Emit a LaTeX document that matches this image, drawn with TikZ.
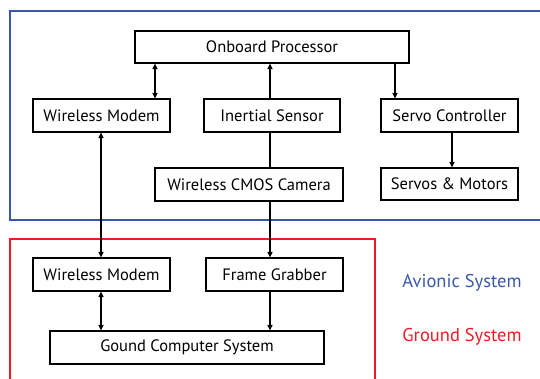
\documentclass[tikz,border=0pt]{standalone}
\usepackage{fontspec}
\setmainfont{PT Sans}
\usetikzlibrary{arrows.meta}
\definecolor{avblue}{RGB}{58,88,170}
\definecolor{gdred}{RGB}{237,28,36}
\tikzset{
  blk/.style={draw, line width=1.2pt, minimum height=33pt, inner sep=0pt,
    font=\fontsize{16.5}{19}\selectfont},
  link/.style={line width=1.2pt, -{Triangle[length=5.5pt,width=5pt]}},
  dlink/.style={line width=1.2pt, {Triangle[length=5.5pt,width=5pt]}-{Triangle[length=5.5pt,width=5pt]}}
}
\begin{document}
\begin{tikzpicture}[x=1pt,y=-1pt]
    \useasboundingbox (0,0) rectangle (540,379);
    \clip (0,0) rectangle (540,379);

    % 两个系统的外框
    \draw[avblue, line width=1.2pt] (10,11) rectangle (560,220);
    \draw[gdred, line width=1.2pt] (10,239) rectangle (375,400);

    % 机载部分
    \node[blk, minimum width=274pt, minimum height=32pt] (proc) at (272,47) {Onboard Processor};
    \node[blk, minimum width=137pt] (wmair) at (101.5,115.5) {Wireless Modem};
    \node[blk, minimum width=136pt] (imu) at (272,115.5) {Inertial Sensor};
    \node[blk, minimum width=137pt] (servo) at (449.5,115.5) {Servo Controller};
    \node[blk, minimum width=137pt, minimum height=32pt] (motor) at (449.5,184) {Servos \& Motors};
    \node[blk, minimum width=188pt] (cam) at (249,184.5) {Wireless CMOS Camera};

    % 地面部分
    \node[blk, minimum width=137pt] (wmgnd) at (101.5,274.5) {Wireless Modem};
    \node[blk, minimum width=137pt] (grab) at (274.5,274.5) {Frame Grabber};
    \node[blk, minimum width=274pt] (pc) at (187,347.5) {Gound Computer System};

    % 连线所在的竖线位置
    \coordinate (xa) at (155,0);
    \coordinate (xb) at (270,0);
    \coordinate (xc) at (395,0);
    \coordinate (xd) at (452,0);
    \coordinate (xe) at (101,0);

    \draw[dlink] (proc.south -| xa) -- (wmair.north -| xa);
    \draw[link] (imu.north -| xb) -- (proc.south -| xb);
    \draw[link] (proc.south -| xc) -- (servo.north -| xc);
    \draw[link] (servo.south -| xd) -- (motor.north -| xd);
    \draw[line width=1.2pt] (imu.south -| xb) -- (cam.north -| xb);
    \draw[link] (cam.south -| xb) -- (grab.north -| xb);
    \draw[dlink] (wmair.south -| xe) -- (wmgnd.north -| xe);
    \draw[dlink] (wmgnd.south -| xe) -- (pc.north -| xe);
    \draw[link] (grab.south -| xb) -- (pc.north -| xb);

    % 图例文字
    \node[avblue, font=\fontsize{18.5}{21}\selectfont] (avlbl) at (462,283) {Avionic System};
    \node[gdred, font=\fontsize{18.5}{21}\selectfont] (gdlbl) at (462,337) {Ground System};
\end{tikzpicture}
\end{document}
